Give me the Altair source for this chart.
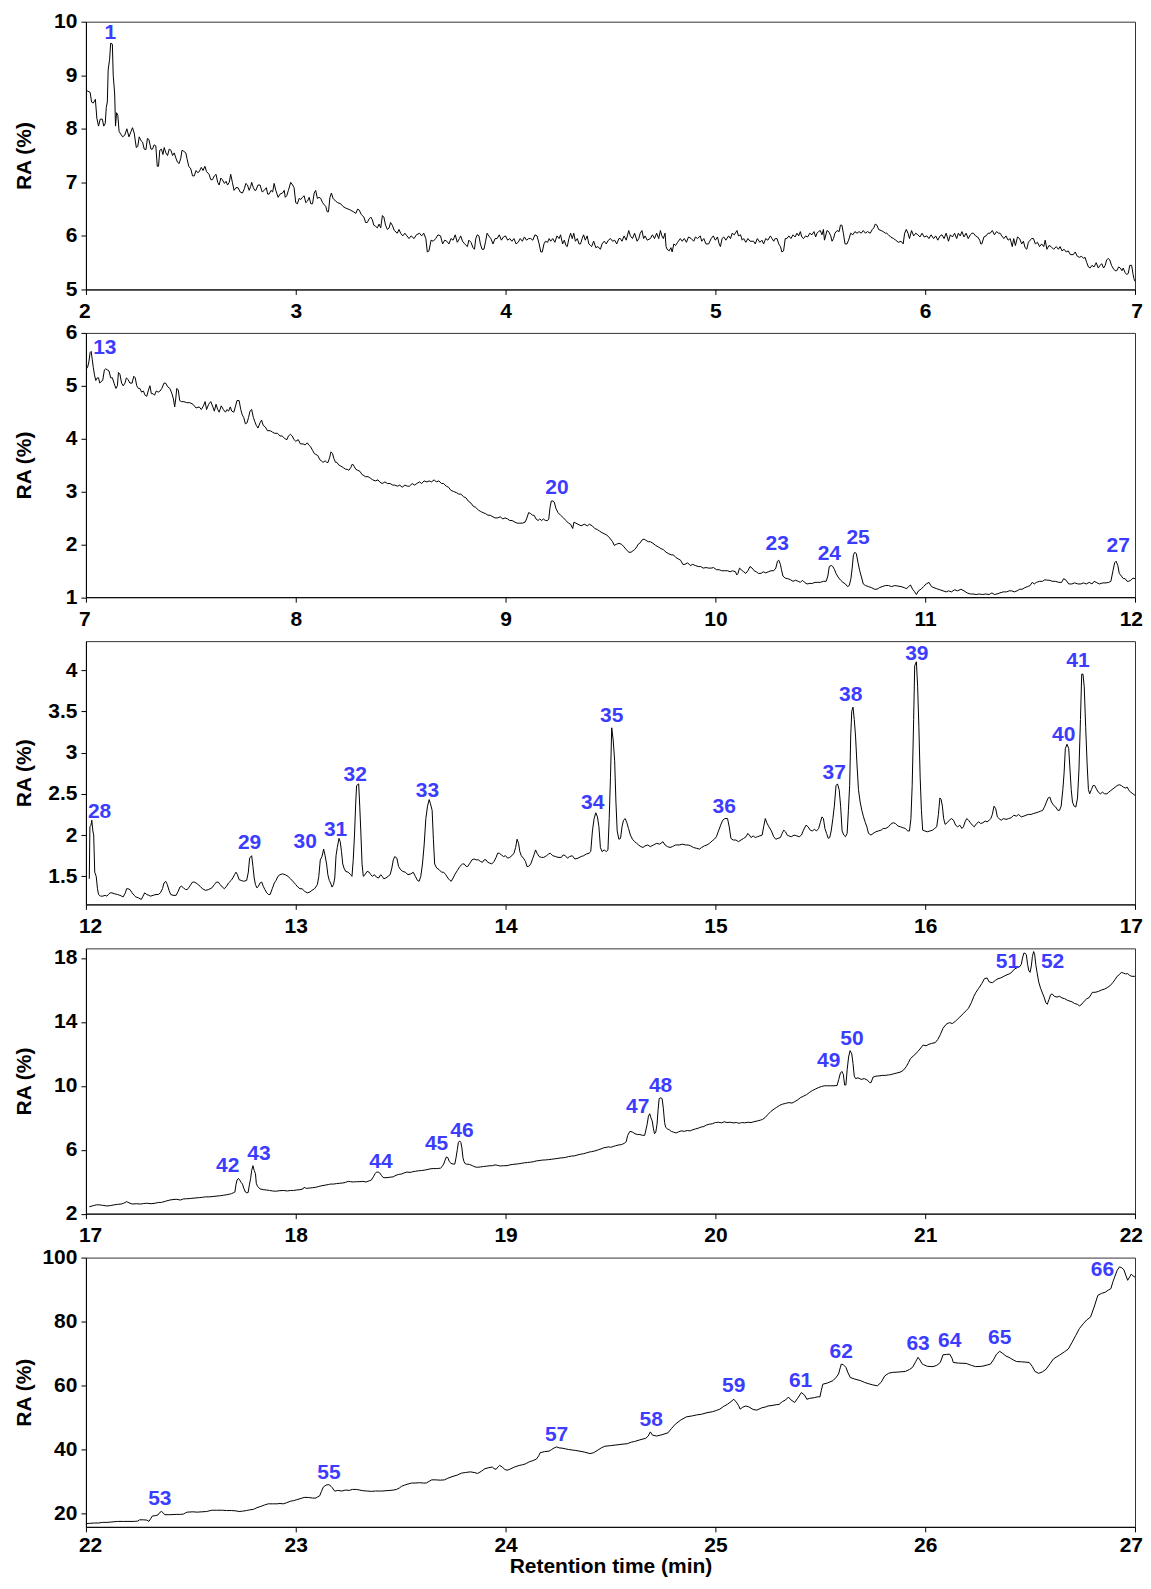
import altair as alt
import pandas as pd

# ---- chromatogram traces: (retention time, RA %) ----
P1 = [(2.000, 8.72), (2.010, 8.70), (2.020, 8.68), (2.027, 8.50), (2.035, 8.48), (2.045, 8.55), (2.052, 8.20), (2.060, 8.05), (2.068, 8.18), (2.078, 8.18), (2.085, 8.05), (2.092, 8.10), (2.097, 8.40), (2.102, 8.50), (2.106, 9.10), (2.113, 9.30), (2.118, 9.60), (2.126, 9.58), (2.130, 9.00), (2.137, 8.65), (2.141, 8.05), (2.146, 8.30), (2.152, 8.25), (2.158, 7.95), (2.166, 7.90), (2.175, 7.85), (2.185, 7.88), (2.195, 8.00), (2.205, 7.85), (2.215, 7.95), (2.222, 8.02), (2.230, 7.92), (2.240, 7.65), (2.247, 7.67), (2.254, 7.85), (2.262, 7.78), (2.270, 7.75), (2.278, 7.62), (2.286, 7.61), (2.293, 7.82), (2.300, 7.80), (2.310, 7.62), (2.317, 7.62), (2.325, 7.70), (2.333, 7.68), (2.340, 7.30), (2.346, 7.30), (2.352, 7.60), (2.360, 7.62), (2.367, 7.52), (2.373, 7.65), (2.381, 7.55), (2.389, 7.50), (2.397, 7.62), (2.405, 7.60), (2.413, 7.50), (2.421, 7.55), (2.429, 7.45), (2.436, 7.38), (2.444, 7.35), (2.452, 7.45), (2.458, 7.60), (2.466, 7.58), (2.476, 7.55), (2.483, 7.42), (2.490, 7.30), (2.500, 7.25), (2.508, 7.12), (2.516, 7.12), (2.525, 7.22), (2.533, 7.18), (2.540, 7.20), (2.550, 7.28), (2.558, 7.22), (2.567, 7.30), (2.575, 7.20), (2.587, 7.15), (2.595, 7.05), (2.603, 7.05), (2.612, 7.12), (2.620, 7.15), (2.628, 7.00), (2.635, 6.95), (2.643, 7.08), (2.650, 7.05), (2.660, 6.98), (2.668, 7.02), (2.675, 6.95), (2.683, 7.00), (2.690, 7.15), (2.698, 7.00), (2.706, 6.85), (2.715, 6.90), (2.725, 6.90), (2.735, 6.82), (2.746, 6.80), (2.755, 6.88), (2.762, 6.98), (2.770, 6.95), (2.778, 6.85), (2.785, 6.92), (2.790, 7.00), (2.798, 6.90), (2.805, 6.85), (2.810, 6.85), (2.820, 6.95), (2.830, 6.95), (2.840, 6.82), (2.850, 6.85), (2.860, 6.90), (2.866, 6.78), (2.873, 6.78), (2.882, 6.85), (2.890, 6.82), (2.897, 6.98), (2.905, 6.85), (2.916, 6.72), (2.925, 6.78), (2.937, 6.80), (2.945, 6.85), (2.950, 6.72), (2.957, 6.75), (2.965, 6.85), (2.976, 7.00), (2.985, 6.95), (2.992, 6.90), (3.000, 6.62), (3.008, 6.60), (3.016, 6.70), (3.024, 6.68), (3.032, 6.72), (3.040, 6.75), (3.048, 6.62), (3.056, 6.65), (3.064, 6.72), (3.072, 6.60), (3.080, 6.60), (3.088, 6.80), (3.095, 6.85), (3.103, 6.70), (3.111, 6.72), (3.119, 6.70), (3.128, 6.62), (3.136, 6.58), (3.143, 6.55), (3.150, 6.45), (3.156, 6.45), (3.163, 6.72), (3.170, 6.80), (3.178, 6.70), (3.190, 6.65), (3.200, 6.62), (3.214, 6.60), (3.225, 6.55), (3.238, 6.52), (3.250, 6.50), (3.262, 6.48), (3.275, 6.45), (3.286, 6.42), (3.295, 6.50), (3.303, 6.48), (3.312, 6.40), (3.325, 6.35), (3.333, 6.25), (3.341, 6.25), (3.350, 6.32), (3.358, 6.35), (3.365, 6.30), (3.372, 6.20), (3.380, 6.18), (3.389, 6.15), (3.397, 6.22), (3.405, 6.15), (3.413, 6.38), (3.420, 6.35), (3.428, 6.20), (3.437, 6.12), (3.445, 6.15), (3.452, 6.25), (3.460, 6.20), (3.470, 6.10), (3.484, 6.05), (3.492, 6.12), (3.500, 6.05), (3.510, 6.00), (3.520, 6.05), (3.530, 6.00), (3.540, 5.95), (3.550, 6.00), (3.564, 5.95), (3.575, 6.02), (3.590, 6.05), (3.600, 6.00), (3.610, 6.05), (3.620, 5.95), (3.627, 5.70), (3.635, 5.72), (3.645, 5.92), (3.655, 5.90), (3.667, 5.95), (3.678, 6.02), (3.690, 6.00), (3.700, 5.85), (3.710, 5.92), (3.720, 5.90), (3.730, 5.85), (3.740, 5.95), (3.750, 5.92), (3.760, 6.02), (3.770, 5.88), (3.780, 5.95), (3.786, 6.00), (3.795, 5.90), (3.805, 5.85), (3.818, 5.80), (3.825, 5.92), (3.835, 5.88), (3.845, 5.78), (3.852, 5.75), (3.858, 5.95), (3.865, 6.02), (3.873, 6.00), (3.880, 5.85), (3.888, 5.75), (3.897, 5.75), (3.905, 5.90), (3.912, 6.05), (3.920, 6.00), (3.930, 5.95), (3.940, 5.85), (3.950, 5.95), (3.960, 5.95), (3.970, 6.02), (3.980, 5.92), (3.990, 5.98), (4.000, 6.00), (4.010, 5.92), (4.020, 5.95), (4.030, 5.90), (4.040, 5.95), (4.050, 5.85), (4.060, 5.88), (4.070, 5.95), (4.080, 5.90), (4.090, 5.98), (4.100, 5.92), (4.110, 5.95), (4.120, 5.95), (4.130, 5.92), (4.140, 6.02), (4.150, 6.00), (4.160, 5.85), (4.168, 5.70), (4.175, 5.70), (4.183, 5.85), (4.190, 5.90), (4.200, 5.88), (4.208, 5.95), (4.215, 5.90), (4.225, 5.95), (4.235, 5.88), (4.245, 6.00), (4.255, 5.95), (4.262, 6.02), (4.272, 5.85), (4.280, 5.92), (4.288, 5.82), (4.294, 5.80), (4.302, 5.95), (4.310, 6.05), (4.318, 5.95), (4.325, 6.05), (4.333, 5.90), (4.342, 5.95), (4.350, 5.85), (4.357, 5.85), (4.365, 5.95), (4.372, 6.02), (4.380, 5.92), (4.389, 6.00), (4.397, 5.85), (4.405, 5.82), (4.410, 5.80), (4.420, 5.90), (4.430, 5.78), (4.440, 5.80), (4.452, 5.75), (4.460, 5.85), (4.470, 5.90), (4.480, 5.85), (4.490, 5.92), (4.500, 5.95), (4.510, 5.90), (4.520, 5.92), (4.530, 5.85), (4.540, 5.95), (4.547, 5.95), (4.555, 5.90), (4.565, 6.00), (4.575, 5.92), (4.587, 6.10), (4.595, 6.00), (4.605, 5.95), (4.615, 6.05), (4.627, 5.90), (4.635, 5.95), (4.642, 6.05), (4.650, 6.10), (4.658, 5.95), (4.665, 6.00), (4.675, 5.92), (4.690, 5.95), (4.700, 6.02), (4.710, 5.95), (4.720, 6.05), (4.730, 5.95), (4.738, 6.10), (4.745, 6.00), (4.752, 5.95), (4.760, 6.05), (4.765, 5.80), (4.770, 5.75), (4.780, 5.72), (4.788, 5.78), (4.794, 5.70), (4.802, 5.85), (4.810, 5.82), (4.820, 5.88), (4.833, 5.95), (4.842, 5.90), (4.852, 5.95), (4.862, 5.88), (4.872, 5.98), (4.885, 5.95), (4.897, 5.90), (4.905, 5.98), (4.915, 5.95), (4.928, 6.00), (4.935, 5.90), (4.945, 5.95), (4.955, 5.85), (4.968, 5.85), (4.980, 5.95), (4.990, 6.00), (5.000, 5.92), (5.010, 5.98), (5.018, 5.85), (5.024, 5.80), (5.032, 5.95), (5.040, 5.98), (5.050, 5.92), (5.063, 6.00), (5.072, 5.95), (5.080, 6.05), (5.090, 6.02), (5.103, 6.10), (5.110, 6.00), (5.120, 6.02), (5.128, 5.92), (5.135, 5.95), (5.145, 5.88), (5.155, 5.95), (5.165, 5.90), (5.182, 5.90), (5.190, 5.85), (5.200, 5.95), (5.212, 5.88), (5.222, 5.92), (5.230, 5.85), (5.240, 5.95), (5.250, 5.92), (5.262, 6.00), (5.270, 5.95), (5.278, 5.90), (5.285, 5.95), (5.294, 5.95), (5.302, 5.85), (5.310, 5.80), (5.317, 5.70), (5.325, 5.72), (5.333, 5.95), (5.341, 5.95), (5.350, 6.00), (5.360, 5.95), (5.370, 6.02), (5.380, 5.98), (5.389, 6.05), (5.397, 6.00), (5.405, 6.08), (5.412, 5.98), (5.420, 5.95), (5.430, 6.00), (5.440, 5.98), (5.450, 6.05), (5.460, 6.02), (5.470, 6.08), (5.478, 5.98), (5.484, 6.05), (5.492, 6.08), (5.500, 6.10), (5.508, 6.02), (5.515, 6.12), (5.520, 5.92), (5.532, 6.10), (5.540, 6.08), (5.550, 6.00), (5.556, 5.90), (5.563, 5.95), (5.570, 6.05), (5.580, 6.10), (5.590, 6.08), (5.596, 6.20), (5.603, 6.20), (5.610, 6.05), (5.618, 5.85), (5.627, 5.85), (5.635, 5.92), (5.645, 6.05), (5.655, 6.02), (5.665, 6.08), (5.675, 6.05), (5.685, 6.08), (5.695, 6.05), (5.705, 6.10), (5.715, 6.05), (5.725, 6.08), (5.738, 6.05), (5.748, 6.12), (5.755, 6.15), (5.762, 6.22), (5.770, 6.20), (5.778, 6.12), (5.790, 6.10), (5.800, 6.08), (5.810, 6.05), (5.817, 6.05), (5.825, 6.02), (5.835, 5.98), (5.849, 5.95), (5.860, 5.92), (5.872, 5.88), (5.885, 5.90), (5.895, 5.85), (5.902, 6.05), (5.910, 6.12), (5.918, 6.05), (5.925, 5.95), (5.935, 6.10), (5.945, 6.00), (5.955, 6.05), (5.965, 6.02), (5.975, 5.98), (5.985, 6.05), (5.995, 5.98), (6.008, 6.00), (6.018, 5.95), (6.028, 6.02), (6.040, 5.95), (6.050, 6.00), (6.060, 5.92), (6.071, 6.00), (6.080, 6.02), (6.090, 5.95), (6.100, 6.05), (6.111, 5.90), (6.120, 6.02), (6.130, 5.98), (6.140, 6.05), (6.150, 5.95), (6.158, 6.05), (6.167, 6.00), (6.175, 6.08), (6.185, 5.98), (6.195, 6.05), (6.205, 5.95), (6.215, 6.02), (6.223, 6.05), (6.230, 6.05), (6.240, 6.00), (6.250, 5.98), (6.260, 5.92), (6.265, 5.85), (6.270, 5.85), (6.280, 5.98), (6.290, 6.00), (6.300, 6.05), (6.310, 6.05), (6.320, 6.10), (6.330, 6.02), (6.340, 6.08), (6.350, 6.05), (6.357, 6.05), (6.365, 6.00), (6.375, 5.95), (6.385, 6.00), (6.395, 5.92), (6.405, 5.95), (6.415, 5.80), (6.422, 5.95), (6.430, 5.82), (6.440, 5.98), (6.450, 5.95), (6.460, 5.85), (6.468, 5.90), (6.476, 5.78), (6.484, 5.75), (6.492, 5.88), (6.500, 5.92), (6.508, 5.95), (6.516, 5.95), (6.525, 5.85), (6.535, 5.88), (6.545, 5.80), (6.555, 5.85), (6.565, 5.80), (6.572, 5.92), (6.580, 5.75), (6.590, 5.82), (6.600, 5.80), (6.612, 5.75), (6.625, 5.80), (6.635, 5.75), (6.643, 5.80), (6.652, 5.72), (6.662, 5.75), (6.672, 5.70), (6.682, 5.72), (6.692, 5.65), (6.706, 5.65), (6.715, 5.70), (6.725, 5.62), (6.735, 5.60), (6.745, 5.62), (6.755, 5.58), (6.762, 5.60), (6.770, 5.50), (6.778, 5.42), (6.786, 5.40), (6.795, 5.45), (6.805, 5.42), (6.815, 5.50), (6.825, 5.40), (6.833, 5.45), (6.842, 5.48), (6.850, 5.40), (6.858, 5.45), (6.865, 5.55), (6.872, 5.58), (6.880, 5.55), (6.888, 5.45), (6.895, 5.40), (6.905, 5.35), (6.913, 5.35), (6.922, 5.42), (6.930, 5.40), (6.938, 5.35), (6.944, 5.40), (6.952, 5.32), (6.960, 5.28), (6.968, 5.30), (6.975, 5.45), (6.984, 5.45), (6.990, 5.30), (6.995, 5.20), (7.000, 5.15)]

P2 = [(7.000, 5.31), (7.008, 5.35), (7.014, 5.45), (7.020, 5.63), (7.025, 5.65), (7.030, 5.50), (7.035, 5.35), (7.041, 5.20), (7.047, 5.10), (7.054, 5.15), (7.060, 5.15), (7.066, 5.05), (7.072, 5.08), (7.080, 5.10), (7.088, 5.30), (7.094, 5.32), (7.102, 5.30), (7.110, 5.28), (7.118, 5.15), (7.126, 5.15), (7.134, 5.05), (7.143, 4.95), (7.150, 5.00), (7.155, 5.25), (7.162, 5.22), (7.170, 5.05), (7.178, 5.00), (7.186, 5.05), (7.193, 5.15), (7.200, 5.12), (7.210, 5.05), (7.220, 5.05), (7.228, 5.18), (7.235, 5.15), (7.242, 5.00), (7.250, 4.95), (7.257, 4.95), (7.265, 4.88), (7.274, 4.90), (7.282, 4.82), (7.290, 4.80), (7.298, 4.92), (7.305, 5.00), (7.312, 4.85), (7.320, 4.85), (7.327, 4.82), (7.335, 4.90), (7.345, 4.88), (7.353, 4.90), (7.362, 4.95), (7.372, 5.05), (7.380, 5.05), (7.390, 4.98), (7.400, 4.95), (7.410, 4.85), (7.417, 4.75), (7.423, 4.60), (7.428, 4.75), (7.433, 4.95), (7.440, 4.92), (7.447, 4.72), (7.455, 4.70), (7.467, 4.70), (7.480, 4.68), (7.495, 4.68), (7.510, 4.65), (7.525, 4.58), (7.540, 4.60), (7.550, 4.55), (7.560, 4.62), (7.568, 4.70), (7.575, 4.55), (7.585, 4.65), (7.595, 4.70), (7.605, 4.60), (7.612, 4.52), (7.620, 4.65), (7.628, 4.55), (7.635, 4.50), (7.645, 4.62), (7.655, 4.55), (7.665, 4.50), (7.672, 4.55), (7.680, 4.52), (7.688, 4.60), (7.695, 4.52), (7.705, 4.50), (7.712, 4.60), (7.720, 4.72), (7.730, 4.72), (7.738, 4.55), (7.745, 4.45), (7.752, 4.40), (7.760, 4.28), (7.768, 4.30), (7.775, 4.40), (7.782, 4.52), (7.790, 4.55), (7.798, 4.40), (7.805, 4.32), (7.812, 4.25), (7.820, 4.20), (7.830, 4.30), (7.837, 4.35), (7.845, 4.25), (7.855, 4.22), (7.865, 4.15), (7.878, 4.15), (7.890, 4.12), (7.900, 4.10), (7.913, 4.10), (7.925, 4.05), (7.935, 4.05), (7.948, 4.00), (7.958, 3.98), (7.965, 4.05), (7.975, 4.08), (7.983, 4.05), (7.992, 3.98), (8.000, 3.95), (8.012, 3.98), (8.022, 3.90), (8.035, 3.90), (8.045, 3.88), (8.055, 3.92), (8.062, 3.88), (8.070, 3.85), (8.080, 3.78), (8.088, 3.72), (8.096, 3.70), (8.105, 3.68), (8.115, 3.60), (8.122, 3.58), (8.130, 3.55), (8.140, 3.58), (8.148, 3.55), (8.154, 3.55), (8.162, 3.65), (8.168, 3.75), (8.175, 3.72), (8.182, 3.62), (8.190, 3.55), (8.196, 3.55), (8.205, 3.50), (8.215, 3.48), (8.227, 3.45), (8.238, 3.42), (8.245, 3.42), (8.253, 3.40), (8.262, 3.45), (8.270, 3.52), (8.278, 3.48), (8.286, 3.42), (8.296, 3.40), (8.306, 3.38), (8.316, 3.32), (8.325, 3.30), (8.332, 3.28), (8.345, 3.28), (8.356, 3.25), (8.367, 3.22), (8.380, 3.20), (8.392, 3.22), (8.400, 3.18), (8.412, 3.15), (8.425, 3.18), (8.437, 3.15), (8.450, 3.15), (8.462, 3.12), (8.472, 3.12), (8.485, 3.10), (8.496, 3.12), (8.507, 3.08), (8.520, 3.12), (8.532, 3.10), (8.542, 3.10), (8.555, 3.15), (8.566, 3.12), (8.577, 3.15), (8.590, 3.18), (8.600, 3.15), (8.612, 3.20), (8.625, 3.18), (8.636, 3.20), (8.647, 3.18), (8.660, 3.22), (8.670, 3.18), (8.682, 3.20), (8.695, 3.15), (8.705, 3.15), (8.717, 3.10), (8.728, 3.08), (8.740, 3.02), (8.752, 3.00), (8.765, 2.98), (8.777, 2.95), (8.787, 2.95), (8.800, 2.90), (8.811, 2.88), (8.822, 2.82), (8.835, 2.78), (8.846, 2.72), (8.857, 2.70), (8.870, 2.65), (8.882, 2.62), (8.892, 2.60), (8.905, 2.58), (8.916, 2.55), (8.927, 2.55), (8.940, 2.52), (8.950, 2.50), (8.962, 2.50), (8.975, 2.52), (8.987, 2.48), (8.997, 2.50), (9.010, 2.48), (9.020, 2.45), (9.031, 2.45), (9.045, 2.42), (9.055, 2.40), (9.066, 2.40), (9.080, 2.40), (9.093, 2.42), (9.100, 2.48), (9.110, 2.60), (9.120, 2.58), (9.128, 2.55), (9.136, 2.55), (9.145, 2.48), (9.155, 2.45), (9.163, 2.48), (9.172, 2.45), (9.180, 2.48), (9.190, 2.45), (9.200, 2.45), (9.206, 2.48), (9.212, 2.70), (9.218, 2.82), (9.226, 2.82), (9.232, 2.80), (9.240, 2.68), (9.250, 2.60), (9.262, 2.55), (9.276, 2.50), (9.288, 2.45), (9.300, 2.40), (9.310, 2.38), (9.320, 2.30), (9.326, 2.42), (9.335, 2.40), (9.345, 2.38), (9.360, 2.35), (9.375, 2.38), (9.390, 2.35), (9.400, 2.38), (9.413, 2.35), (9.425, 2.30), (9.437, 2.28), (9.448, 2.25), (9.460, 2.22), (9.470, 2.20), (9.480, 2.18), (9.490, 2.15), (9.500, 2.10), (9.510, 2.05), (9.518, 1.98), (9.528, 2.00), (9.540, 2.02), (9.553, 2.00), (9.565, 1.95), (9.575, 1.90), (9.588, 1.85), (9.598, 1.85), (9.608, 1.88), (9.615, 1.90), (9.625, 1.95), (9.632, 2.00), (9.640, 2.02), (9.650, 2.08), (9.660, 2.10), (9.667, 2.08), (9.680, 2.05), (9.690, 2.05), (9.702, 2.02), (9.715, 1.98), (9.728, 1.95), (9.740, 1.92), (9.752, 1.90), (9.765, 1.85), (9.778, 1.82), (9.790, 1.80), (9.800, 1.80), (9.812, 1.75), (9.825, 1.72), (9.834, 1.70), (9.845, 1.62), (9.855, 1.62), (9.868, 1.65), (9.880, 1.60), (9.892, 1.62), (9.904, 1.60), (9.918, 1.58), (9.930, 1.58), (9.942, 1.55), (9.955, 1.56), (9.968, 1.55), (9.980, 1.55), (9.991, 1.56), (10.005, 1.52), (10.018, 1.52), (10.030, 1.50), (10.044, 1.50), (10.058, 1.50), (10.070, 1.48), (10.082, 1.50), (10.096, 1.48), (10.102, 1.42), (10.108, 1.45), (10.115, 1.55), (10.123, 1.52), (10.135, 1.48), (10.145, 1.45), (10.155, 1.50), (10.165, 1.58), (10.175, 1.55), (10.185, 1.50), (10.195, 1.48), (10.205, 1.45), (10.218, 1.45), (10.228, 1.48), (10.240, 1.46), (10.252, 1.48), (10.265, 1.50), (10.278, 1.50), (10.288, 1.55), (10.296, 1.68), (10.302, 1.70), (10.310, 1.62), (10.315, 1.52), (10.322, 1.40), (10.333, 1.36), (10.345, 1.35), (10.358, 1.33), (10.370, 1.30), (10.382, 1.32), (10.395, 1.30), (10.405, 1.28), (10.415, 1.32), (10.425, 1.28), (10.437, 1.25), (10.450, 1.26), (10.462, 1.26), (10.475, 1.28), (10.488, 1.28), (10.500, 1.28), (10.515, 1.30), (10.528, 1.30), (10.536, 1.40), (10.543, 1.58), (10.552, 1.60), (10.560, 1.58), (10.568, 1.52), (10.575, 1.45), (10.585, 1.38), (10.597, 1.32), (10.608, 1.28), (10.620, 1.25), (10.630, 1.20), (10.638, 1.22), (10.646, 1.35), (10.652, 1.55), (10.658, 1.80), (10.665, 1.85), (10.672, 1.82), (10.680, 1.65), (10.688, 1.50), (10.695, 1.40), (10.705, 1.25), (10.715, 1.22), (10.730, 1.20), (10.744, 1.18), (10.758, 1.15), (10.770, 1.15), (10.782, 1.18), (10.795, 1.20), (10.810, 1.22), (10.825, 1.22), (10.840, 1.20), (10.855, 1.22), (10.870, 1.21), (10.885, 1.20), (10.900, 1.18), (10.912, 1.16), (10.920, 1.20), (10.930, 1.23), (10.940, 1.15), (10.950, 1.10), (10.958, 1.05), (10.968, 1.12), (10.980, 1.15), (10.992, 1.20), (11.005, 1.25), (11.018, 1.28), (11.030, 1.20), (11.042, 1.18), (11.055, 1.16), (11.070, 1.14), (11.085, 1.12), (11.100, 1.10), (11.112, 1.12), (11.125, 1.10), (11.140, 1.14), (11.155, 1.12), (11.170, 1.15), (11.185, 1.12), (11.200, 1.08), (11.215, 1.06), (11.228, 1.06), (11.243, 1.05), (11.258, 1.06), (11.272, 1.05), (11.288, 1.06), (11.305, 1.05), (11.318, 1.08), (11.330, 1.05), (11.342, 1.06), (11.356, 1.08), (11.372, 1.10), (11.388, 1.10), (11.400, 1.12), (11.412, 1.12), (11.425, 1.10), (11.438, 1.12), (11.450, 1.15), (11.462, 1.15), (11.475, 1.18), (11.488, 1.20), (11.500, 1.22), (11.510, 1.28), (11.520, 1.25), (11.530, 1.28), (11.545, 1.30), (11.559, 1.30), (11.570, 1.33), (11.582, 1.32), (11.594, 1.32), (11.605, 1.30), (11.620, 1.30), (11.637, 1.28), (11.650, 1.28), (11.660, 1.35), (11.672, 1.32), (11.684, 1.25), (11.699, 1.25), (11.712, 1.27), (11.728, 1.25), (11.742, 1.25), (11.755, 1.27), (11.768, 1.25), (11.782, 1.28), (11.795, 1.25), (11.805, 1.30), (11.815, 1.28), (11.830, 1.25), (11.847, 1.27), (11.862, 1.27), (11.875, 1.28), (11.885, 1.30), (11.895, 1.50), (11.903, 1.65), (11.910, 1.68), (11.918, 1.60), (11.925, 1.45), (11.935, 1.40), (11.945, 1.35), (11.953, 1.35), (11.962, 1.30), (11.970, 1.30), (11.980, 1.32), (11.990, 1.36), (12.000, 1.35)]

P3 = [(12.016, 1.47), (12.019, 2.10), (12.024, 2.12), (12.028, 2.18), (12.033, 2.05), (12.037, 2.00), (12.042, 1.55), (12.049, 1.50), (12.055, 1.35), (12.060, 1.28), (12.070, 1.26), (12.080, 1.26), (12.092, 1.27), (12.100, 1.26), (12.107, 1.28), (12.115, 1.30), (12.124, 1.30), (12.135, 1.29), (12.150, 1.28), (12.162, 1.27), (12.170, 1.26), (12.177, 1.25), (12.188, 1.30), (12.194, 1.35), (12.200, 1.35), (12.210, 1.34), (12.220, 1.30), (12.230, 1.27), (12.238, 1.25), (12.250, 1.24), (12.264, 1.22), (12.272, 1.26), (12.280, 1.30), (12.290, 1.28), (12.300, 1.27), (12.308, 1.26), (12.320, 1.27), (12.334, 1.28), (12.345, 1.28), (12.355, 1.30), (12.365, 1.35), (12.372, 1.42), (12.380, 1.44), (12.388, 1.40), (12.396, 1.33), (12.404, 1.28), (12.415, 1.27), (12.430, 1.27), (12.440, 1.32), (12.448, 1.37), (12.456, 1.38), (12.465, 1.36), (12.475, 1.34), (12.483, 1.34), (12.492, 1.37), (12.500, 1.40), (12.508, 1.43), (12.517, 1.43), (12.525, 1.42), (12.535, 1.40), (12.544, 1.38), (12.555, 1.35), (12.570, 1.33), (12.585, 1.34), (12.600, 1.36), (12.612, 1.40), (12.622, 1.43), (12.631, 1.43), (12.640, 1.40), (12.650, 1.37), (12.660, 1.35), (12.670, 1.38), (12.680, 1.42), (12.692, 1.45), (12.700, 1.48), (12.708, 1.52), (12.715, 1.55), (12.722, 1.52), (12.730, 1.46), (12.740, 1.45), (12.752, 1.44), (12.766, 1.45), (12.774, 1.55), (12.780, 1.72), (12.790, 1.75), (12.796, 1.62), (12.802, 1.48), (12.808, 1.40), (12.815, 1.36), (12.822, 1.38), (12.830, 1.42), (12.838, 1.43), (12.845, 1.38), (12.853, 1.34), (12.862, 1.30), (12.870, 1.28), (12.878, 1.28), (12.888, 1.35), (12.898, 1.42), (12.906, 1.45), (12.915, 1.50), (12.925, 1.52), (12.937, 1.53), (12.950, 1.52), (12.963, 1.50), (12.975, 1.47), (12.990, 1.43), (13.000, 1.40), (13.010, 1.37), (13.020, 1.35), (13.030, 1.35), (13.042, 1.32), (13.055, 1.30), (13.068, 1.31), (13.077, 1.33), (13.090, 1.35), (13.103, 1.40), (13.110, 1.50), (13.117, 1.70), (13.125, 1.74), (13.133, 1.83), (13.140, 1.75), (13.147, 1.65), (13.153, 1.52), (13.160, 1.45), (13.166, 1.42), (13.173, 1.37), (13.180, 1.40), (13.186, 1.48), (13.192, 1.75), (13.198, 1.85), (13.206, 1.96), (13.212, 1.92), (13.218, 1.80), (13.224, 1.65), (13.230, 1.60), (13.238, 1.56), (13.250, 1.55), (13.262, 1.52), (13.268, 1.50), (13.274, 1.70), (13.280, 2.00), (13.286, 2.40), (13.290, 2.60), (13.300, 2.62), (13.305, 2.35), (13.310, 2.05), (13.316, 1.65), (13.322, 1.50), (13.330, 1.52), (13.340, 1.56), (13.350, 1.55), (13.358, 1.52), (13.365, 1.50), (13.375, 1.52), (13.385, 1.49), (13.395, 1.48), (13.405, 1.52), (13.412, 1.50), (13.420, 1.47), (13.430, 1.48), (13.440, 1.50), (13.450, 1.52), (13.458, 1.60), (13.465, 1.70), (13.472, 1.74), (13.482, 1.72), (13.490, 1.62), (13.500, 1.58), (13.510, 1.56), (13.522, 1.55), (13.535, 1.52), (13.549, 1.53), (13.560, 1.55), (13.570, 1.50), (13.580, 1.45), (13.588, 1.44), (13.596, 1.50), (13.604, 1.65), (13.612, 1.88), (13.620, 2.20), (13.628, 2.35), (13.636, 2.43), (13.642, 2.38), (13.650, 2.30), (13.656, 1.95), (13.662, 1.65), (13.672, 1.60), (13.684, 1.58), (13.695, 1.55), (13.705, 1.55), (13.715, 1.52), (13.725, 1.48), (13.735, 1.45), (13.741, 1.44), (13.750, 1.48), (13.760, 1.53), (13.770, 1.57), (13.782, 1.62), (13.795, 1.65), (13.803, 1.65), (13.812, 1.62), (13.820, 1.62), (13.830, 1.66), (13.840, 1.70), (13.850, 1.71), (13.860, 1.70), (13.870, 1.70), (13.881, 1.68), (13.890, 1.67), (13.898, 1.70), (13.907, 1.70), (13.915, 1.67), (13.925, 1.66), (13.934, 1.65), (13.945, 1.68), (13.955, 1.73), (13.962, 1.78), (13.970, 1.78), (13.980, 1.76), (13.990, 1.74), (14.000, 1.75), (14.010, 1.72), (14.020, 1.73), (14.030, 1.75), (14.040, 1.78), (14.048, 1.85), (14.055, 1.95), (14.062, 1.90), (14.068, 1.80), (14.075, 1.75), (14.085, 1.72), (14.095, 1.68), (14.102, 1.62), (14.110, 1.62), (14.120, 1.65), (14.130, 1.72), (14.138, 1.78), (14.143, 1.82), (14.150, 1.78), (14.160, 1.74), (14.170, 1.73), (14.182, 1.73), (14.195, 1.75), (14.205, 1.77), (14.213, 1.78), (14.225, 1.75), (14.238, 1.74), (14.250, 1.73), (14.266, 1.73), (14.275, 1.76), (14.285, 1.75), (14.295, 1.72), (14.305, 1.74), (14.318, 1.75), (14.330, 1.71), (14.345, 1.72), (14.360, 1.74), (14.372, 1.75), (14.385, 1.77), (14.398, 1.78), (14.406, 1.80), (14.414, 2.05), (14.422, 2.20), (14.430, 2.27), (14.438, 2.22), (14.445, 2.10), (14.452, 1.85), (14.460, 1.80), (14.470, 1.82), (14.480, 1.80), (14.488, 1.82), (14.494, 2.20), (14.500, 2.70), (14.506, 3.30), (14.513, 3.15), (14.520, 2.90), (14.526, 2.40), (14.532, 2.05), (14.540, 1.95), (14.548, 1.96), (14.555, 2.10), (14.562, 2.18), (14.570, 2.20), (14.578, 2.15), (14.586, 2.08), (14.595, 2.00), (14.605, 1.95), (14.615, 1.92), (14.625, 1.90), (14.634, 1.88), (14.645, 1.86), (14.655, 1.85), (14.665, 1.87), (14.678, 1.88), (14.690, 1.86), (14.705, 1.88), (14.720, 1.90), (14.735, 1.89), (14.750, 1.92), (14.760, 1.88), (14.772, 1.86), (14.784, 1.85), (14.795, 1.86), (14.810, 1.88), (14.828, 1.88), (14.842, 1.89), (14.858, 1.88), (14.870, 1.88), (14.882, 1.87), (14.895, 1.85), (14.910, 1.84), (14.924, 1.83), (14.935, 1.85), (14.948, 1.87), (14.960, 1.88), (14.972, 1.90), (14.985, 1.93), (14.995, 1.95), (15.005, 1.98), (15.015, 2.05), (15.025, 2.12), (15.035, 2.18), (15.045, 2.20), (15.058, 2.20), (15.066, 2.10), (15.074, 1.96), (15.085, 1.94), (15.098, 1.94), (15.110, 1.92), (15.122, 1.94), (15.135, 1.96), (15.146, 1.98), (15.155, 2.02), (15.162, 2.00), (15.170, 1.97), (15.180, 1.99), (15.190, 1.97), (15.200, 1.98), (15.212, 1.99), (15.223, 2.00), (15.230, 2.10), (15.238, 2.20), (15.245, 2.15), (15.255, 2.10), (15.267, 2.05), (15.278, 1.98), (15.288, 1.95), (15.298, 1.96), (15.310, 1.97), (15.318, 2.02), (15.326, 2.06), (15.334, 2.04), (15.342, 2.00), (15.350, 1.99), (15.362, 1.98), (15.375, 2.00), (15.388, 1.99), (15.400, 1.98), (15.410, 2.00), (15.420, 2.06), (15.432, 2.12), (15.442, 2.10), (15.452, 2.06), (15.462, 2.05), (15.472, 2.07), (15.482, 2.05), (15.492, 2.08), (15.500, 2.15), (15.508, 2.22), (15.515, 2.20), (15.522, 2.08), (15.530, 2.02), (15.538, 1.96), (15.545, 1.97), (15.552, 2.05), (15.560, 2.20), (15.567, 2.35), (15.575, 2.60), (15.582, 2.62), (15.590, 2.55), (15.597, 2.35), (15.604, 2.05), (15.612, 2.00), (15.620, 1.98), (15.628, 2.02), (15.634, 2.30), (15.640, 2.60), (15.645, 3.20), (15.650, 3.50), (15.656, 3.55), (15.662, 3.40), (15.668, 3.20), (15.675, 2.85), (15.682, 2.55), (15.690, 2.40), (15.698, 2.30), (15.706, 2.22), (15.715, 2.15), (15.722, 2.10), (15.730, 2.02), (15.742, 2.00), (15.752, 2.02), (15.765, 2.04), (15.777, 2.05), (15.790, 2.06), (15.800, 2.08), (15.812, 2.08), (15.825, 2.10), (15.835, 2.13), (15.847, 2.15), (15.858, 2.14), (15.870, 2.11), (15.882, 2.10), (15.893, 2.09), (15.905, 2.08), (15.917, 2.05), (15.925, 2.05), (15.932, 2.20), (15.938, 2.60), (15.945, 3.40), (15.950, 4.05), (15.958, 4.10), (15.964, 3.80), (15.970, 3.30), (15.976, 2.70), (15.982, 2.30), (15.988, 2.06), (15.998, 2.05), (16.010, 2.04), (16.023, 2.05), (16.035, 2.06), (16.045, 2.08), (16.055, 2.10), (16.063, 2.25), (16.070, 2.45), (16.076, 2.43), (16.082, 2.35), (16.088, 2.20), (16.095, 2.13), (16.105, 2.15), (16.115, 2.18), (16.125, 2.20), (16.135, 2.18), (16.145, 2.12), (16.155, 2.10), (16.165, 2.12), (16.175, 2.08), (16.182, 2.10), (16.190, 2.16), (16.198, 2.20), (16.207, 2.18), (16.215, 2.15), (16.225, 2.12), (16.234, 2.10), (16.245, 2.14), (16.255, 2.16), (16.265, 2.14), (16.275, 2.15), (16.286, 2.17), (16.295, 2.16), (16.305, 2.18), (16.313, 2.20), (16.320, 2.25), (16.328, 2.35), (16.336, 2.32), (16.344, 2.22), (16.352, 2.20), (16.362, 2.18), (16.374, 2.20), (16.385, 2.19), (16.398, 2.20), (16.410, 2.21), (16.422, 2.24), (16.435, 2.23), (16.445, 2.25), (16.458, 2.22), (16.470, 2.23), (16.480, 2.24), (16.492, 2.25), (16.505, 2.25), (16.515, 2.26), (16.528, 2.27), (16.540, 2.28), (16.550, 2.29), (16.560, 2.30), (16.570, 2.35), (16.578, 2.40), (16.586, 2.45), (16.594, 2.46), (16.602, 2.40), (16.612, 2.36), (16.622, 2.34), (16.632, 2.30), (16.640, 2.30), (16.648, 2.35), (16.656, 2.55), (16.662, 2.75), (16.668, 3.05), (16.676, 3.10), (16.684, 3.05), (16.690, 2.80), (16.696, 2.55), (16.702, 2.40), (16.710, 2.35), (16.718, 2.34), (16.726, 2.45), (16.733, 2.80), (16.740, 3.40), (16.746, 3.95), (16.752, 3.95), (16.758, 3.80), (16.765, 3.30), (16.772, 2.85), (16.778, 2.55), (16.784, 2.50), (16.792, 2.55), (16.800, 2.60), (16.808, 2.60), (16.816, 2.56), (16.825, 2.52), (16.835, 2.50), (16.845, 2.52), (16.855, 2.50), (16.866, 2.50), (16.875, 2.52), (16.885, 2.54), (16.895, 2.56), (16.905, 2.58), (16.915, 2.60), (16.925, 2.61), (16.935, 2.60), (16.945, 2.58), (16.955, 2.57), (16.963, 2.58), (16.971, 2.54), (16.980, 2.52), (16.990, 2.50), (17.000, 2.48)]

P4 = [(17.016, 2.43), (17.035, 2.50), (17.050, 2.55), (17.063, 2.55), (17.080, 2.52), (17.100, 2.48), (17.116, 2.50), (17.135, 2.55), (17.150, 2.58), (17.168, 2.60), (17.180, 2.65), (17.194, 2.75), (17.205, 2.68), (17.220, 2.60), (17.240, 2.62), (17.260, 2.60), (17.275, 2.63), (17.290, 2.65), (17.310, 2.62), (17.330, 2.65), (17.345, 2.70), (17.360, 2.70), (17.380, 2.78), (17.400, 2.85), (17.415, 2.88), (17.430, 2.90), (17.450, 2.85), (17.465, 2.92), (17.480, 2.93), (17.500, 2.95), (17.520, 2.98), (17.540, 3.00), (17.555, 3.02), (17.570, 3.05), (17.590, 3.05), (17.610, 3.08), (17.625, 3.10), (17.640, 3.12), (17.655, 3.15), (17.670, 3.18), (17.685, 3.22), (17.694, 3.25), (17.702, 3.30), (17.710, 3.35), (17.715, 3.80), (17.720, 4.10), (17.727, 4.20), (17.733, 4.10), (17.740, 3.95), (17.746, 3.85), (17.752, 3.60), (17.760, 3.35), (17.767, 3.30), (17.773, 3.32), (17.779, 3.80), (17.785, 4.20), (17.790, 4.70), (17.796, 5.00), (17.802, 4.70), (17.808, 4.50), (17.812, 3.90), (17.818, 3.70), (17.830, 3.55), (17.845, 3.50), (17.860, 3.48), (17.875, 3.45), (17.890, 3.42), (17.904, 3.40), (17.920, 3.43), (17.940, 3.45), (17.960, 3.42), (17.975, 3.45), (17.990, 3.45), (18.005, 3.48), (18.020, 3.50), (18.035, 3.55), (18.040, 3.65), (18.050, 3.58), (18.065, 3.60), (18.080, 3.62), (18.096, 3.65), (18.110, 3.70), (18.125, 3.75), (18.140, 3.78), (18.155, 3.82), (18.166, 3.85), (18.180, 3.85), (18.195, 3.88), (18.210, 3.90), (18.225, 3.92), (18.236, 3.95), (18.250, 4.02), (18.260, 4.00), (18.275, 3.98), (18.290, 4.00), (18.306, 4.00), (18.320, 4.02), (18.335, 3.98), (18.350, 4.05), (18.360, 4.10), (18.370, 4.30), (18.378, 4.50), (18.385, 4.60), (18.393, 4.60), (18.400, 4.55), (18.408, 4.40), (18.415, 4.28), (18.420, 4.25), (18.435, 4.25), (18.450, 4.28), (18.464, 4.30), (18.478, 4.40), (18.490, 4.45), (18.505, 4.48), (18.517, 4.55), (18.530, 4.60), (18.545, 4.58), (18.557, 4.62), (18.570, 4.65), (18.585, 4.68), (18.600, 4.70), (18.612, 4.72), (18.625, 4.75), (18.640, 4.80), (18.655, 4.82), (18.670, 4.82), (18.682, 4.83), (18.690, 4.85), (18.698, 4.95), (18.705, 5.10), (18.712, 5.35), (18.718, 5.55), (18.725, 5.50), (18.732, 5.25), (18.740, 5.15), (18.750, 5.10), (18.758, 5.10), (18.764, 5.50), (18.770, 6.00), (18.775, 6.45), (18.781, 6.55), (18.787, 6.45), (18.792, 6.10), (18.797, 5.50), (18.802, 5.25), (18.808, 5.12), (18.814, 5.10), (18.828, 5.08), (18.842, 5.00), (18.855, 4.92), (18.867, 4.90), (18.880, 4.92), (18.895, 4.95), (18.910, 4.97), (18.925, 5.00), (18.937, 5.00), (18.950, 5.05), (18.962, 5.02), (18.975, 4.98), (18.990, 5.00), (19.007, 5.00), (19.020, 5.05), (19.035, 5.08), (19.050, 5.10), (19.062, 5.12), (19.077, 5.15), (19.090, 5.18), (19.105, 5.20), (19.118, 5.22), (19.133, 5.25), (19.147, 5.30), (19.160, 5.32), (19.175, 5.35), (19.190, 5.36), (19.205, 5.38), (19.217, 5.40), (19.230, 5.42), (19.245, 5.45), (19.260, 5.48), (19.275, 5.50), (19.287, 5.52), (19.300, 5.57), (19.315, 5.60), (19.330, 5.62), (19.345, 5.68), (19.358, 5.72), (19.372, 5.75), (19.385, 5.80), (19.398, 5.85), (19.410, 5.88), (19.425, 5.92), (19.443, 6.00), (19.455, 6.05), (19.468, 6.12), (19.480, 6.15), (19.492, 6.18), (19.500, 6.15), (19.513, 6.20), (19.525, 6.25), (19.540, 6.30), (19.553, 6.32), (19.566, 6.40), (19.575, 6.50), (19.582, 6.90), (19.593, 7.15), (19.605, 7.10), (19.617, 7.00), (19.628, 6.95), (19.640, 6.95), (19.652, 6.90), (19.663, 6.90), (19.670, 7.30), (19.675, 7.60), (19.681, 8.10), (19.687, 8.25), (19.693, 8.00), (19.699, 7.80), (19.705, 7.30), (19.710, 7.00), (19.716, 7.10), (19.722, 7.60), (19.727, 8.50), (19.732, 9.20), (19.740, 9.25), (19.746, 9.20), (19.752, 8.60), (19.758, 7.70), (19.763, 7.40), (19.772, 7.30), (19.780, 7.25), (19.790, 7.15), (19.800, 7.10), (19.813, 7.05), (19.825, 7.12), (19.838, 7.18), (19.852, 7.15), (19.866, 7.20), (19.880, 7.18), (19.892, 7.25), (19.905, 7.30), (19.919, 7.35), (19.932, 7.42), (19.945, 7.45), (19.958, 7.55), (19.972, 7.60), (19.985, 7.62), (20.000, 7.70), (20.015, 7.72), (20.030, 7.68), (20.042, 7.75), (20.055, 7.70), (20.070, 7.72), (20.085, 7.68), (20.100, 7.70), (20.113, 7.65), (20.125, 7.70), (20.140, 7.68), (20.155, 7.72), (20.170, 7.70), (20.183, 7.75), (20.200, 7.80), (20.215, 7.85), (20.225, 7.90), (20.236, 8.00), (20.250, 8.20), (20.265, 8.40), (20.280, 8.55), (20.292, 8.65), (20.307, 8.78), (20.320, 8.85), (20.335, 8.90), (20.350, 8.95), (20.365, 8.92), (20.377, 9.00), (20.390, 9.10), (20.405, 9.25), (20.420, 9.35), (20.435, 9.45), (20.448, 9.58), (20.462, 9.70), (20.477, 9.80), (20.490, 9.88), (20.505, 9.95), (20.519, 10.00), (20.535, 10.00), (20.550, 10.00), (20.565, 10.00), (20.580, 10.02), (20.588, 10.40), (20.596, 10.80), (20.603, 10.90), (20.610, 10.70), (20.616, 10.05), (20.622, 10.05), (20.628, 11.00), (20.635, 11.80), (20.642, 12.20), (20.650, 12.00), (20.656, 11.40), (20.662, 10.60), (20.668, 10.45), (20.680, 10.50), (20.695, 10.40), (20.710, 10.45), (20.725, 10.35), (20.735, 10.20), (20.742, 10.20), (20.752, 10.55), (20.765, 10.60), (20.780, 10.62), (20.795, 10.65), (20.810, 10.65), (20.825, 10.68), (20.836, 10.70), (20.850, 10.75), (20.865, 10.80), (20.880, 10.85), (20.890, 10.92), (20.898, 11.00), (20.910, 11.20), (20.920, 11.45), (20.930, 11.70), (20.942, 11.85), (20.955, 12.00), (20.965, 12.15), (20.975, 12.30), (20.990, 12.55), (21.004, 12.50), (21.018, 12.60), (21.030, 12.65), (21.048, 12.70), (21.060, 12.90), (21.072, 13.20), (21.085, 13.60), (21.100, 13.85), (21.115, 13.95), (21.130, 13.90), (21.145, 14.05), (21.153, 14.15), (21.165, 14.30), (21.180, 14.50), (21.195, 14.70), (21.206, 14.85), (21.220, 15.20), (21.232, 15.60), (21.242, 15.85), (21.255, 16.10), (21.270, 16.40), (21.282, 16.70), (21.295, 16.75), (21.305, 16.50), (21.320, 16.45), (21.335, 16.60), (21.347, 16.70), (21.360, 16.75), (21.375, 16.85), (21.390, 16.95), (21.400, 17.00), (21.412, 17.10), (21.425, 17.30), (21.440, 17.40), (21.450, 17.45), (21.458, 17.60), (21.464, 18.00), (21.470, 18.30), (21.476, 18.30), (21.482, 18.20), (21.488, 17.60), (21.494, 17.20), (21.500, 17.10), (21.506, 17.50), (21.511, 18.10), (21.517, 18.40), (21.522, 18.20), (21.527, 17.60), (21.533, 17.10), (21.541, 16.50), (21.550, 16.10), (21.559, 15.80), (21.568, 15.50), (21.575, 15.20), (21.582, 15.10), (21.590, 15.40), (21.598, 15.70), (21.605, 15.75), (21.615, 15.60), (21.628, 15.55), (21.640, 15.60), (21.652, 15.50), (21.665, 15.45), (21.678, 15.35), (21.690, 15.30), (21.700, 15.25), (21.712, 15.15), (21.725, 15.10), (21.735, 15.00), (21.742, 15.05), (21.752, 15.20), (21.762, 15.35), (21.770, 15.45), (21.780, 15.50), (21.790, 15.70), (21.797, 15.85), (21.810, 15.85), (21.825, 15.90), (21.841, 16.00), (21.855, 16.05), (21.868, 16.15), (21.880, 16.25), (21.894, 16.45), (21.905, 16.65), (21.915, 16.85), (21.925, 16.95), (21.935, 17.10), (21.945, 17.05), (21.955, 17.00), (21.965, 17.02), (21.975, 16.90), (21.985, 16.85), (21.996, 16.85), (22.000, 16.85)]

P5 = [(22.000, 16.8), (22.016, 16.9), (22.040, 17.0), (22.060, 17.0), (22.080, 17.2), (22.100, 17.2), (22.120, 17.3), (22.150, 17.5), (22.180, 17.5), (22.210, 17.5), (22.230, 17.5), (22.247, 17.6), (22.256, 18.0), (22.275, 18.0), (22.290, 17.9), (22.300, 17.5), (22.310, 18.5), (22.317, 19.2), (22.330, 19.3), (22.343, 19.5), (22.352, 20.3), (22.360, 20.6), (22.368, 20.2), (22.375, 19.6), (22.400, 19.6), (22.430, 19.7), (22.450, 19.7), (22.466, 19.8), (22.475, 20.2), (22.483, 20.4), (22.510, 20.5), (22.530, 20.4), (22.553, 20.5), (22.575, 20.6), (22.600, 21.0), (22.623, 21.0), (22.650, 21.0), (22.670, 20.9), (22.693, 20.9), (22.715, 20.8), (22.730, 20.6), (22.746, 20.7), (22.765, 20.9), (22.780, 21.1), (22.800, 21.3), (22.815, 21.8), (22.834, 22.2), (22.850, 22.6), (22.869, 23.0), (22.890, 23.0), (22.910, 23.0), (22.925, 23.1), (22.940, 23.0), (22.955, 23.3), (22.974, 23.8), (22.990, 24.0), (23.005, 24.3), (23.026, 24.7), (23.040, 25.0), (23.060, 25.0), (23.080, 24.8), (23.096, 24.8), (23.105, 25.2), (23.114, 25.5), (23.122, 26.8), (23.131, 28.2), (23.145, 28.9), (23.158, 29.0), (23.168, 28.5), (23.175, 28.0), (23.182, 27.2), (23.187, 27.0), (23.200, 27.2), (23.220, 27.0), (23.236, 27.3), (23.255, 27.2), (23.270, 27.5), (23.289, 27.5), (23.305, 27.3), (23.320, 27.1), (23.341, 27.0), (23.360, 26.9), (23.380, 27.0), (23.400, 27.0), (23.412, 27.0), (23.430, 27.1), (23.450, 27.2), (23.465, 27.3), (23.480, 27.5), (23.495, 28.0), (23.505, 28.5), (23.517, 28.8), (23.535, 29.2), (23.552, 29.5), (23.569, 29.5), (23.590, 29.6), (23.610, 29.5), (23.622, 29.5), (23.635, 30.0), (23.648, 30.5), (23.665, 30.5), (23.690, 30.4), (23.709, 30.5), (23.725, 31.0), (23.745, 31.5), (23.770, 32.0), (23.790, 32.6), (23.810, 32.8), (23.832, 33.0), (23.850, 32.8), (23.867, 32.5), (23.885, 33.2), (23.902, 34.0), (23.920, 34.3), (23.937, 34.5), (23.945, 34.0), (23.955, 33.8), (23.965, 34.6), (23.972, 35.0), (23.985, 34.5), (23.995, 33.8), (24.007, 33.5), (24.020, 33.8), (24.042, 34.5), (24.065, 35.0), (24.080, 35.2), (24.095, 35.5), (24.115, 36.2), (24.130, 36.5), (24.147, 37.0), (24.158, 38.0), (24.165, 39.0), (24.185, 39.3), (24.208, 39.5), (24.220, 40.0), (24.232, 40.5), (24.243, 40.8), (24.255, 40.5), (24.270, 40.4), (24.285, 40.2), (24.300, 40.0), (24.320, 39.8), (24.335, 39.7), (24.350, 39.5), (24.375, 39.2), (24.403, 38.7), (24.420, 39.0), (24.440, 39.8), (24.456, 40.5), (24.473, 41.0), (24.500, 41.2), (24.526, 41.4), (24.550, 41.6), (24.580, 41.8), (24.600, 42.3), (24.615, 42.5), (24.640, 43.0), (24.668, 43.5), (24.680, 44.2), (24.690, 45.5), (24.700, 44.5), (24.720, 44.2), (24.745, 44.6), (24.774, 45.2), (24.790, 46.5), (24.809, 47.9), (24.835, 49.2), (24.862, 50.2), (24.890, 50.5), (24.910, 50.8), (24.933, 51.0), (24.960, 51.5), (24.986, 51.8), (25.005, 52.2), (25.021, 52.6), (25.040, 53.5), (25.057, 54.1), (25.075, 55.0), (25.088, 55.7), (25.100, 54.8), (25.110, 53.8), (25.118, 52.6), (25.130, 53.2), (25.145, 53.6), (25.160, 53.3), (25.180, 52.5), (25.198, 52.3), (25.220, 53.0), (25.240, 53.3), (25.251, 53.6), (25.275, 53.8), (25.290, 54.0), (25.304, 54.1), (25.320, 55.0), (25.335, 55.5), (25.348, 56.4), (25.360, 55.5), (25.378, 54.7), (25.392, 56.0), (25.410, 57.8), (25.425, 57.0), (25.436, 55.7), (25.450, 56.0), (25.472, 56.2), (25.490, 56.5), (25.498, 56.4), (25.505, 58.5), (25.512, 60.4), (25.535, 60.8), (25.560, 61.5), (25.575, 62.5), (25.587, 63.6), (25.595, 65.5), (25.600, 66.7), (25.610, 66.5), (25.622, 65.7), (25.632, 64.0), (25.643, 62.5), (25.665, 62.0), (25.693, 61.5), (25.710, 61.0), (25.728, 60.6), (25.750, 60.2), (25.772, 59.9), (25.790, 61.0), (25.807, 63.0), (25.825, 63.8), (25.843, 64.1), (25.870, 64.2), (25.905, 64.4), (25.925, 65.0), (25.940, 65.7), (25.955, 67.5), (25.966, 68.8), (25.975, 68.0), (25.985, 66.8), (25.993, 66.5), (26.010, 66.0), (26.037, 65.9), (26.055, 66.3), (26.072, 67.2), (26.085, 69.6), (26.100, 69.7), (26.117, 69.8), (26.128, 68.5), (26.134, 67.2), (26.160, 67.0), (26.196, 66.9), (26.220, 66.3), (26.240, 65.9), (26.270, 66.0), (26.295, 66.4), (26.311, 66.7), (26.325, 68.0), (26.340, 69.8), (26.355, 70.7), (26.370, 70.0), (26.385, 69.2), (26.400, 68.8), (26.420, 68.0), (26.435, 67.5), (26.460, 67.4), (26.480, 67.3), (26.496, 67.2), (26.510, 66.0), (26.523, 64.4), (26.541, 63.8), (26.560, 64.3), (26.576, 65.1), (26.595, 66.8), (26.611, 68.3), (26.640, 69.5), (26.665, 70.6), (26.682, 71.4), (26.700, 73.5), (26.717, 75.6), (26.735, 77.8), (26.753, 79.3), (26.770, 80.5), (26.788, 81.4), (26.805, 84.5), (26.823, 88.2), (26.840, 88.8), (26.859, 89.2), (26.872, 89.8), (26.885, 90.3), (26.895, 92.5), (26.903, 93.9), (26.915, 96.0), (26.926, 97.1), (26.937, 96.8), (26.947, 96.2), (26.956, 94.5), (26.965, 92.9), (26.975, 94.0), (26.982, 94.8), (26.990, 94.3), (27.000, 93.9)]

# ---- peak labels: (text, retention time, RA position) ----
L1 = [("1", 2.116, 9.79)]
L2 = [("13", 7.09, 5.71), ("20", 9.245, 3.07), ("23", 10.295, 2.00), ("24", 10.543, 1.82), ("25", 10.68, 2.12), ("27", 11.92, 1.97)]
L3 = [("28", 12.065, 2.28), ("29", 12.78, 1.90), ("30", 13.045, 1.91), ("31", 13.19, 2.06), ("32", 13.283, 2.73), ("33", 13.628, 2.54), ("34", 14.415, 2.39), ("35", 14.506, 3.44), ("36", 15.042, 2.34), ("37", 15.566, 2.75), ("38", 15.645, 3.70), ("39", 15.96, 4.20), ("40", 16.66, 3.21), ("41", 16.728, 4.11)]
L4 = [("42", 17.676, 4.95), ("43", 17.825, 5.73), ("44", 18.406, 5.26), ("45", 18.671, 6.33), ("46", 18.792, 7.18), ("47", 19.63, 8.70), ("48", 19.739, 9.96), ("49", 20.54, 11.55), ("50", 20.651, 12.93), ("51", 21.392, 17.75), ("52", 21.607, 17.75)]
L5 = [("53", 22.352, 24.6), ("55", 23.158, 32.6), ("57", 24.243, 44.5), ("58", 24.694, 49.1), ("59", 25.087, 59.7), ("61", 25.406, 61.5), ("62", 25.6, 70.4), ("63", 25.966, 73.0), ("64", 26.117, 74.0), ("65", 26.355, 74.9), ("66", 26.845, 96.0)]

X_DOMAINS = [[2, 7], [7, 12], [12, 17], [17, 22], [22, 27]]
Y_DOMAINS = [[5, 10], [1, 6], [1.16, 4.35], [2, 18.6], [15.8, 100]]
Y_TICKS = [[5, 6, 7, 8, 9, 10], [1, 2, 3, 4, 5, 6], [1.5, 2, 2.5, 3, 3.5, 4], [2, 6, 10, 14, 18], [20, 40, 60, 80, 100]]
Y_TITLE_PAD = [19, 31, 13, 19, 7.5]
HEIGHTS = [268, 264.5, 263.5, 265.5, 269.5]
Y_TITLE = "RA (%)"
X_TITLE = "Retention time (min)"

FONT = "Liberation Sans"
BLUE = "#3c3cff"
FS = 21


def make_panel(points, labels, xdom, ydom, yvals, ypad, h, last):
    df = pd.DataFrame(points, columns=["t", "ra"])
    lab = pd.DataFrame(labels, columns=["txt", "t", "ra"])
    xticks = list(range(xdom[0], xdom[1] + 1))
    if last:
        xaxis = alt.Axis(values=xticks, format="d", labelFlush=True, labelFlushOffset=7.5,
                         labelOverlap=False, labelPadding=3, title=X_TITLE, titlePadding=0)
    else:
        xaxis = alt.Axis(values=xticks, format="d", labelFlush=True, labelFlushOffset=7.5,
                         labelOverlap=False, labelPadding=6, title=None)
    yaxis = alt.Axis(values=yvals, format=".2~f", title=Y_TITLE, titlePadding=ypad,
                     labelPadding=4)
    x = alt.X("t:Q", scale=alt.Scale(domain=xdom, nice=False, zero=False), axis=xaxis)
    y = alt.Y("ra:Q", scale=alt.Scale(domain=ydom, nice=False, zero=False), axis=yaxis)
    line = alt.Chart(df).mark_line(color="black", strokeWidth=1, clip=True).encode(x=x, y=y)
    text = alt.Chart(lab).mark_text(color=BLUE, font=FONT, fontSize=FS, fontWeight="bold",
                                    align="center", baseline="middle").encode(
        x=alt.X("t:Q"), y=alt.Y("ra:Q"), text="txt:N")
    return alt.layer(line, text).properties(width=1050, height=h)


panels = []
data = [P1, P2, P3, P4, P5]
labs = [L1, L2, L3, L4, L5]
for i in range(5):
    panels.append(make_panel(data[i], labs[i], X_DOMAINS[i], Y_DOMAINS[i], Y_TICKS[i],
                             Y_TITLE_PAD[i], HEIGHTS[i], i == 4))

chart = alt.vconcat(*panels, spacing=43.5, bounds="flush").properties(
    padding={"left": 4, "top": 1, "right": 0, "bottom": 0}
).configure_view(
    stroke="#333333", strokeWidth=1
).configure_axis(
    labelFont=FONT, labelFontSize=FS, labelFontWeight="bold", labelColor="black",
    titleFont=FONT, titleFontSize=21, titleFontWeight="bold", titleColor="black",
    domainColor="black", tickColor="black", tickSize=5, grid=False
)

chart.save("out.html", embed_options={"renderer": "svg", "actions": False})
